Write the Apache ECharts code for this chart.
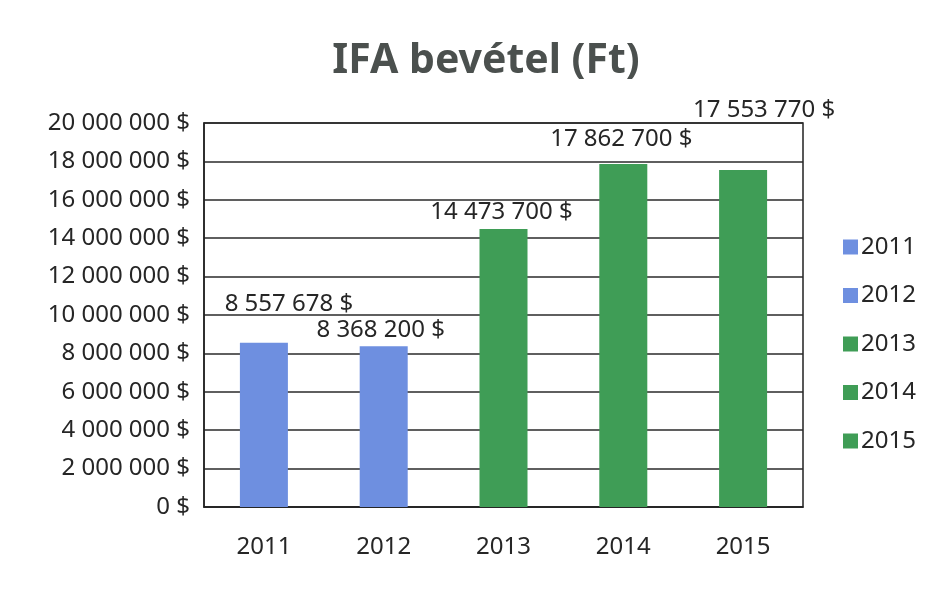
<!DOCTYPE html>
<html>
<head>
<meta charset="utf-8">
<script src="https://cdn.jsdelivr.net/npm/echarts@6/dist/echarts.min.js"></script>
<style>
  html, body { margin: 0; padding: 0; background: #fff; }
  #chart { width: 940px; height: 591px; }
</style>
</head>
<body>
<div id="chart"></div>
<script>
const years = ['2011', '2012', '2013', '2014', '2015'];
const revenue = [8557678, 8368200, 14473700, 17862700, 17553770];
const yTicks = [0, 2000000, 4000000, 6000000, 8000000, 10000000, 12000000, 14000000, 16000000, 18000000, 20000000];

const blue = '#6e8fe0';
const green = '#3f9d56';
const seriesColors = [blue, blue, green, green, green];
// hand placed labels like the original
const labelOffsets = [[25, -24], [-3, -1], [-2, -2], [-2, -10], [21, -45]];

const fmt = (v) => String(v).replace(/\B(?=(\d{3})+(?!\d))/g, ' ') + ' $';
const textFont = 'Noto Sans';

const chart = echarts.init(document.getElementById('chart'));

const series = years.map((y, i) => ({
    name: y,
    type: 'bar',
    stack: 'all',
    barWidth: 48,
    itemStyle: { color: seriesColors[i] },
    label: {
        show: true,
        position: 'top',
        distance: 3,
        offset: labelOffsets[i],
        color: '#262626',
        fontSize: 24,
        fontFamily: textFont,
        formatter: (p) => fmt(p.value)
    },
    data: years.map((_, j) => (j === i ? revenue[i] : '-'))
}));

chart.setOption({
    animation: false,
    title: {
        text: 'IFA bevétel (Ft)',
        left: 481,
        top: 36,
        textAlign: 'center',
        textStyle: { fontSize: 41, fontWeight: 'bold', color: '#4b504e', fontFamily: textFont }
    },
    legend: {
        orient: 'vertical',
        left: 838,
        top: 230,
        itemWidth: 15,
        itemHeight: 15,
        itemGap: 24.5,
        icon: 'rect',
        textStyle: { fontSize: 24, color: '#262626', fontFamily: textFont, padding: [0, 0, 0, -2] },
        data: years
    },
    grid: {
        left: 204,
        right: 137,
        top: 123,
        bottom: 84,
        show: true,
        borderColor: '#222',
        borderWidth: 1.5
    },
    xAxis: {
        type: 'category',
        data: years,
        axisTick: { show: false },
        axisLine: { lineStyle: { color: '#222', width: 1.5 } },
        axisLabel: { fontSize: 24, color: '#262626', fontFamily: textFont, margin: 28 }
    },
    yAxis: {
        type: 'value',
        min: yTicks[0],
        max: yTicks[yTicks.length - 1],
        interval: yTicks[1] - yTicks[0],
        axisLine: { show: true, lineStyle: { color: '#222', width: 1.5 } },
        axisTick: { show: false },
        axisLabel: { fontSize: 24, color: '#262626', fontFamily: textFont, margin: 14, formatter: fmt },
        splitLine: { lineStyle: { color: '#2a2a2a', width: 1.5 } }
    },
    series: series
});
</script>
</body>
</html>
